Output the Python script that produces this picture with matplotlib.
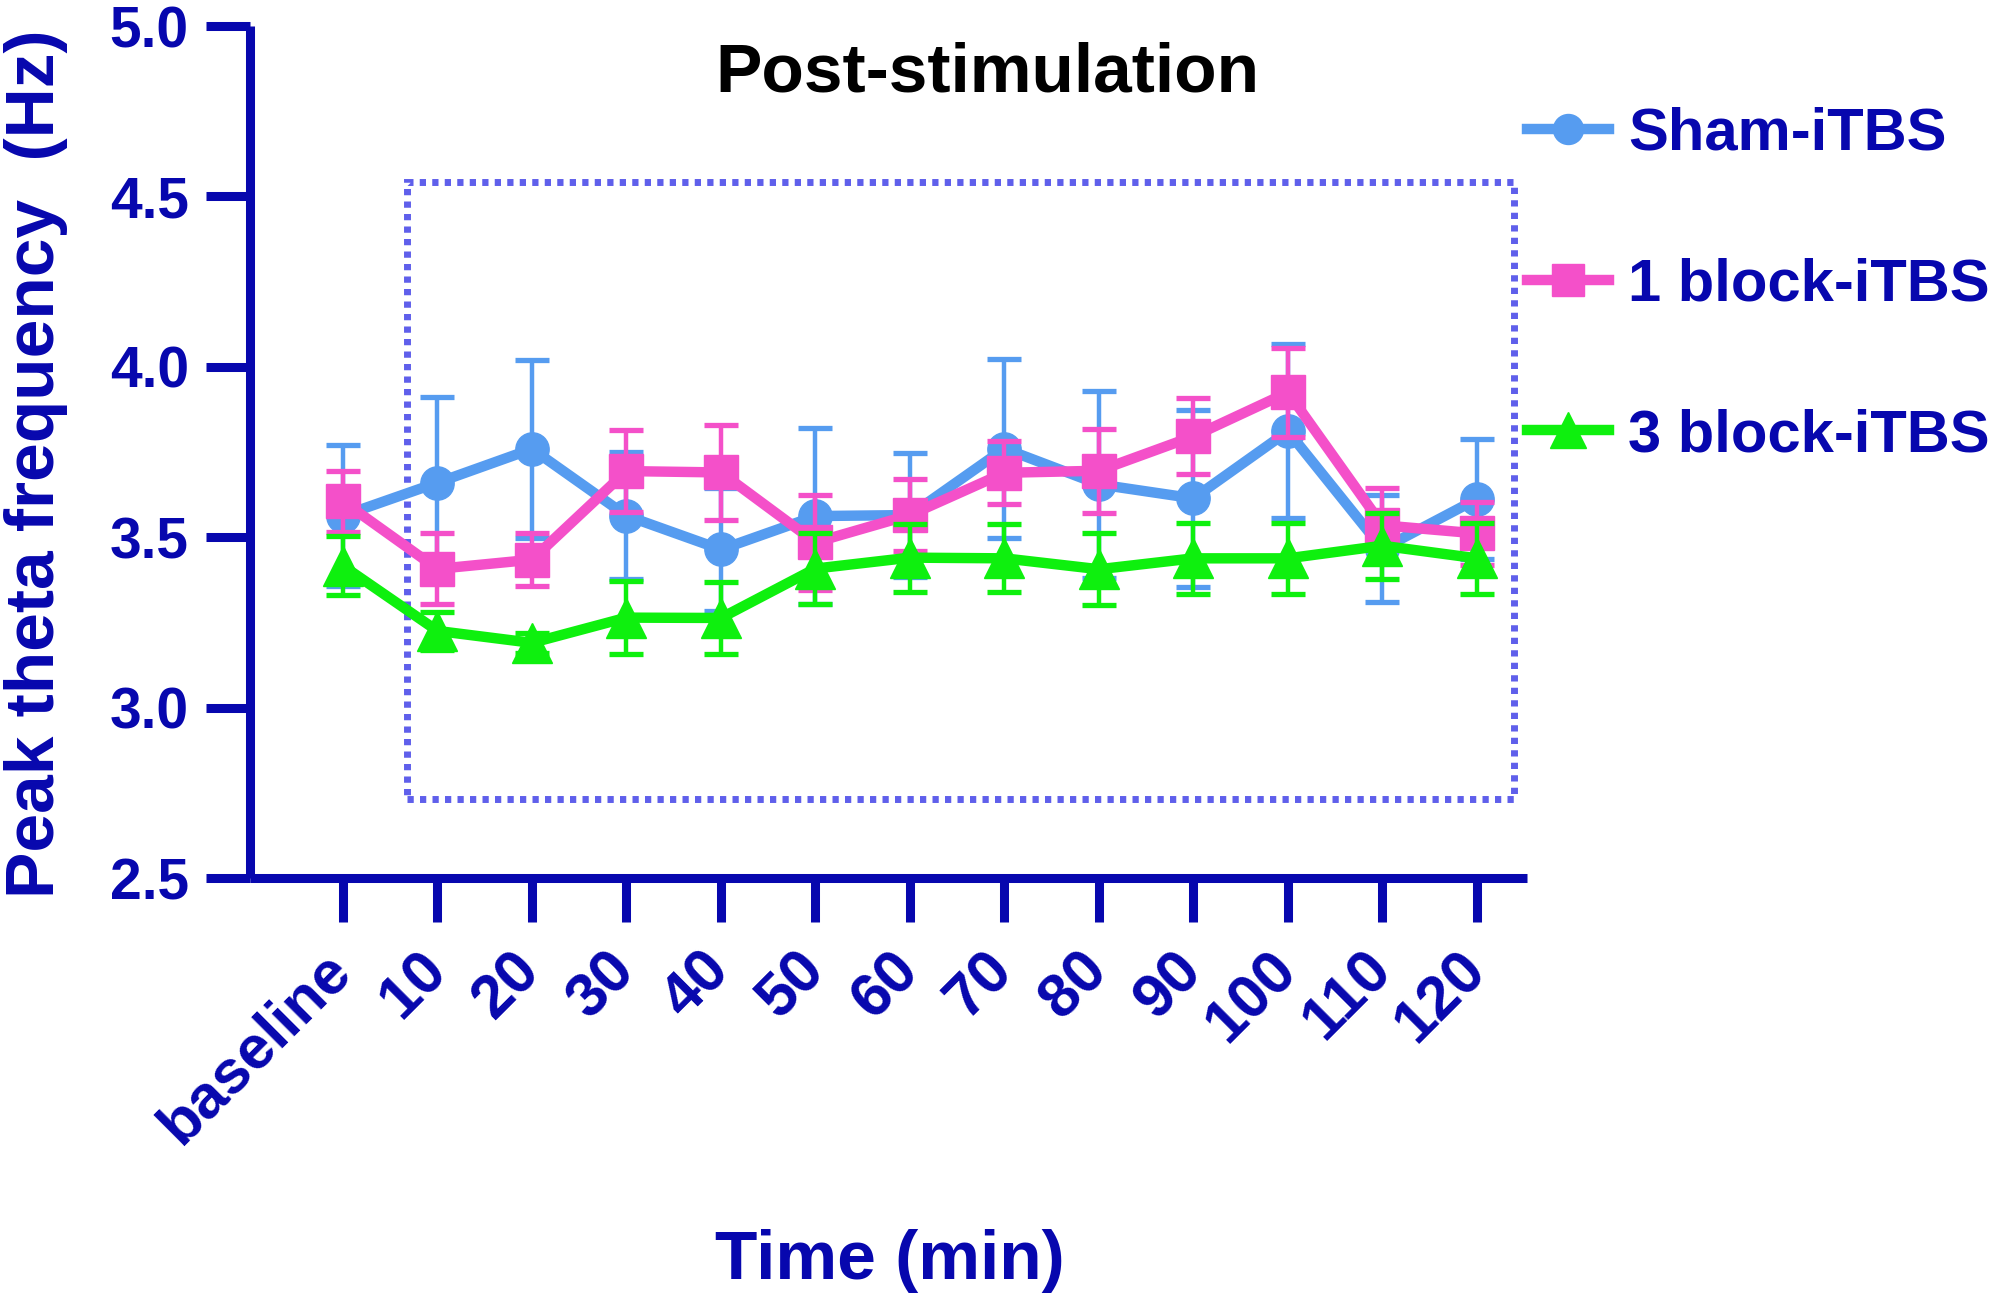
import matplotlib
matplotlib.use("Agg")
import matplotlib.pyplot as plt
from matplotlib.lines import Line2D
from matplotlib.patches import Rectangle

# ---------------- data ----------------
time_labels = ['baseline', '10', '20', '30', '40', '50', '60', '70', '80', '90', '100', '110', '120']

sham_mean = [3.563, 3.660, 3.759, 3.563, 3.464, 3.562, 3.565, 3.760, 3.655, 3.614, 3.811, 3.466, 3.612]
sham_err  = [0.207, 0.250, 0.262, 0.186, 0.180, 0.258, 0.182, 0.262, 0.275, 0.260, 0.255, 0.157, 0.175]

one_mean = [3.605, 3.407, 3.434, 3.694, 3.690, 3.485, 3.565, 3.689, 3.695, 3.796, 3.925, 3.535, 3.511]
one_err  = [0.090, 0.104, 0.077, 0.120, 0.140, 0.140, 0.105, 0.093, 0.123, 0.112, 0.130, 0.110, 0.093]

three_mean = [3.416, 3.225, 3.190, 3.264, 3.263, 3.408, 3.440, 3.438, 3.406, 3.438, 3.438, 3.475, 3.438]
three_err  = [0.087, 0.055, 0.030, 0.107, 0.107, 0.103, 0.100, 0.100, 0.105, 0.104, 0.104, 0.097, 0.104]

series_names = ['Sham-iTBS', '1 block-iTBS', '3 block-iTBS']

# ---------------- style ----------------
plt.rcParams['font.family'] = ['Liberation Sans', 'DejaVu Sans']
plt.rcParams['font.weight'] = 'bold'

NAVY = '#0707AE'
BLUE = '#569CF0'
PINK = '#F450C9'
GREEN = '#0EF00E'
DOT = '#5F5FEB'

W, H = 1995, 1301
fig = plt.figure(figsize=(W / 100, H / 100), dpi=100)
ax = fig.add_axes([250 / W, 1 - 878 / H, (1527 - 250) / W, (878 - 26) / H])

x = list(range(len(time_labels)))

specs = [
    (sham_mean, sham_err, BLUE, 'o', 24, 3),
    (one_mean, one_err, PINK, 's', 25, 4),
    (three_mean, three_err, GREEN, '^', 28.5, 5),
]
handles = []
for (m, e, c, mk, ms, z), name in zip(specs, series_names):
    ax.errorbar(x, m, yerr=e, color=c, ecolor=c, marker=mk, markersize=ms,
                markeredgecolor=c, markerfacecolor=c, linewidth=7.5,
                elinewidth=3.2, capsize=12.5, capthick=3.8, zorder=z,
                clip_on=False)
    handles.append(Line2D([], [], color=c, marker=mk, markersize=ms * 0.9,
                          markeredgecolor=c, linewidth=7.5, label=name))

# dotted box
ax.add_patch(Rectangle((0.677, 2.732), 12.39 - 0.677, 4.542 - 2.732, fill=False,
                       edgecolor=DOT, linewidth=5, linestyle=(0, (0.9, 0.9)),
                       zorder=1, clip_on=False))

ax.set_xlim(-0.984, 12.53)
ax.set_ylim(2.5, 5.0)
ax.set_yticks([2.5, 3.0, 3.5, 4.0, 4.5, 5.0])
ax.set_yticklabels(['2.5', '3.0', '3.5', '4.0', '4.5', '5.0'])
ax.set_xticks(x)
ax.set_xticklabels(time_labels, rotation=45, ha='right', va='center',
                   rotation_mode='anchor')

for s in ['top', 'right']:
    ax.spines[s].set_visible(False)
for s in ['left', 'bottom']:
    ax.spines[s].set_color(NAVY)
    ax.spines[s].set_linewidth(6.5)
    ax.spines[s].set_capstyle('butt')

ax.tick_params(axis='both', colors=NAVY, width=6.5, length=32)
ax.tick_params(axis='x', pad=28, labelsize=44)
ax.tick_params(axis='y', pad=12, labelsize=41)
for lbl in ax.get_xticklabels() + ax.get_yticklabels():
    lbl.set_fontweight('bold')
    lbl.set_color(NAVY)

# labels
fig.text(36 / W, 1 - 464 / H, 'Peak theta frequency  (Hz)', rotation=90,
         ha='center', va='center', fontsize=50, fontweight='bold', color=NAVY)
fig.text(890 / W, 1 - 1279 / H, 'Time (min)', ha='center', va='baseline',
         fontsize=50, fontweight='bold', color=NAVY)
fig.text(987 / W, 1 - 92 / H, 'Post-stimulation', ha='center', va='baseline',
         fontsize=50, fontweight='bold', color='black')

leg = ax.legend(handles=handles, loc='upper left',
                bbox_to_anchor=(1527 / W, 1 - 107 / H),
                bbox_transform=fig.transFigure, frameon=False,
                fontsize=43, handlelength=1.37, handletextpad=0.32,
                labelspacing=1.60, borderpad=0, borderaxespad=0, numpoints=1)
for t in leg.get_texts():
    t.set_color(NAVY)
    t.set_fontweight('bold')

fig.savefig('out.png', dpi=100, facecolor='white')
